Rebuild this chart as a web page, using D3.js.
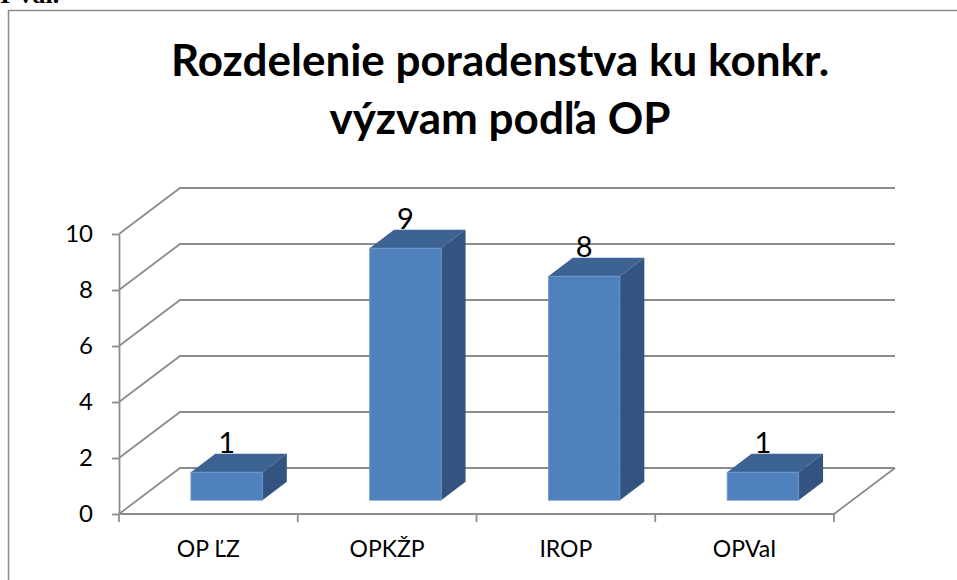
<!DOCTYPE html>
<html>
<head>
<meta charset="utf-8">
<script src="https://cdn.jsdelivr.net/npm/d3@7"></script>
<style>
  body { margin: 0; background: #fff; }
  svg { display: block; }
</style>
</head>
<body>
<div id="chart"></div>
<script>
// data
var categories = ["OP ĽZ", "OPKŽP", "IROP", "OPVaI"];
var values = [1, 9, 8, 1];
var yTicks = [0, 2, 4, 6, 8, 10];
var titleLines = ["Rozdelenie poradenstva ku konkr.", "výzvam podľa OP"];

var width = 957,
    height = 580;

var svg = d3.select("#chart")
  .append("svg")
  .attr("width", width)
  .attr("height", height);

// fragment of the document text above the chart (cut off at the top, as in the page)
svg.append("text")
  .attr("x", 0)
  .attr("y", 3)
  .style("font-family", "Liberation Serif")
  .style("font-weight", "bold")
  .style("font-size", "26px")
  .text("I Val.");

// chart frame
svg.append("rect")
  .attr("x", 8.5)
  .attr("y", 10.5)
  .attr("width", 1000)
  .attr("height", 700)
  .style("fill", "none")
  .style("stroke", "#8a8a8a")
  .style("stroke-width", 1.5);

// title
svg.append("g").selectAll("text")
  .data(titleLines)
  .enter()
  .append("text")
  .attr("x", 500)
  .attr("y", function(d, i) { return 76 + i * 58; })
  .attr("text-anchor", "middle")
  .style("font-family", "Lato")
  .style("font-weight", "bold")
  .style("font-size", "44px")
  .text(function(d) { return d; });

// scales
var x = d3.scaleBand()
  .domain(categories)
  .range([119, 834])
  .padding(0);

var y = d3.scaleLinear()
  .domain([0, 10])
  .range([514, 234]);

// depth of the 3d box (floor) and of the bars inside it
var depth = {dx: 61, dy: -46};
var barIn = 0.3, barOut = 0.7;
var gridColor = "#8c8c8c";

// back wall gridlines
var grid = svg.append("g");
grid.selectAll("path")
  .data(yTicks)
  .enter()
  .append("path")
  .attr("d", function(d) {
    var y0 = y(d);
    return "M119," + y0 + "L" + (119 + depth.dx) + "," + (y0 + depth.dy) +
           "L" + (834 + depth.dx) + "," + (y0 + depth.dy);
  })
  .style("fill", "none")
  .style("stroke", gridColor)
  .style("stroke-width", 1.8);

// floor right edge and front edge (x axis)
grid.append("path")
  .attr("d", "M" + (834 + depth.dx) + "," + (y(0) + depth.dy) + "L834," + y(0) + "L119," + y(0))
  .style("fill", "none")
  .style("stroke", gridColor)
  .style("stroke-width", 1.8);

// x axis ticks at the category boundaries
var edges = categories.map(function(c) { return x(c); }).concat([x.range()[1]]);
grid.selectAll("line.xt")
  .data(edges)
  .enter()
  .append("line")
  .attr("class", "xt")
  .attr("x1", function(d) { return d; })
  .attr("x2", function(d) { return d; })
  .attr("y1", y(0))
  .attr("y2", y(0) + 8)
  .style("stroke", gridColor)
  .style("stroke-width", 1.8);

// y axis
var yAxis = svg.append("g")
  .attr("transform", "translate(119,0)")
  .call(d3.axisLeft(y).tickValues(yTicks).tickSize(7).tickSizeOuter(0).tickPadding(19));
yAxis.select(".domain").style("stroke", gridColor).style("stroke-width", 1.8);
yAxis.selectAll(".tick line").style("stroke", gridColor).style("stroke-width", 1.8);
yAxis.selectAll(".tick text")
  .style("font-family", "Lato")
  .style("font-size", "24px")
  .style("fill", "#000");

// bars
var bw = x.bandwidth() * 0.4;
var bars = svg.append("g").selectAll("g")
  .data(values)
  .enter()
  .append("g");

function fx(i) { return x(categories[i]) + (x.bandwidth() - bw) / 2 + depth.dx * barIn; }
function fy(v) { return y(v) + depth.dy * barIn; }
var ddx = depth.dx * (barOut - barIn), ddy = depth.dy * (barOut - barIn);

// top face
bars.append("path")
  .attr("d", function(d, i) {
    var x0 = fx(i), y0 = fy(d);
    return "M" + x0 + "," + y0 + "L" + (x0 + ddx) + "," + (y0 + ddy) +
           "L" + (x0 + bw + ddx) + "," + (y0 + ddy) + "L" + (x0 + bw) + "," + y0 + "Z";
  })
  .style("fill", "#3d6392");

// side face
bars.append("path")
  .attr("d", function(d, i) {
    var x0 = fx(i) + bw, y0 = fy(d), y1 = fy(0);
    return "M" + x0 + "," + y0 + "L" + (x0 + ddx) + "," + (y0 + ddy) +
           "L" + (x0 + ddx) + "," + (y1 + ddy) + "L" + x0 + "," + y1 + "Z";
  })
  .style("fill", "#335480");

// front face
bars.append("rect")
  .attr("x", function(d, i) { return fx(i); })
  .attr("y", function(d) { return fy(d); })
  .attr("width", bw)
  .attr("height", function(d) { return fy(0) - fy(d); })
  .style("fill", "#4f81bd")
  .style("stroke", "#6f98cb")
  .style("stroke-width", 0.8);

// value labels
bars.append("text")
  .attr("x", function(d, i) { return fx(i) + bw / 2; })
  .attr("y", function(d) { return fy(d) + ddy - 1; })
  .attr("text-anchor", "middle")
  .style("font-family", "Lato")
  .style("font-size", "29px")
  .text(function(d) { return d; });

// category labels
svg.append("g").selectAll("text")
  .data(categories)
  .enter()
  .append("text")
  .attr("x", function(d) { return x(d) + x.bandwidth() / 2; })
  .attr("y", 557)
  .attr("text-anchor", "middle")
  .style("font-family", "Lato")
  .style("font-size", "23px")
  .text(function(d) { return d; });
</script>
</body>
</html>
